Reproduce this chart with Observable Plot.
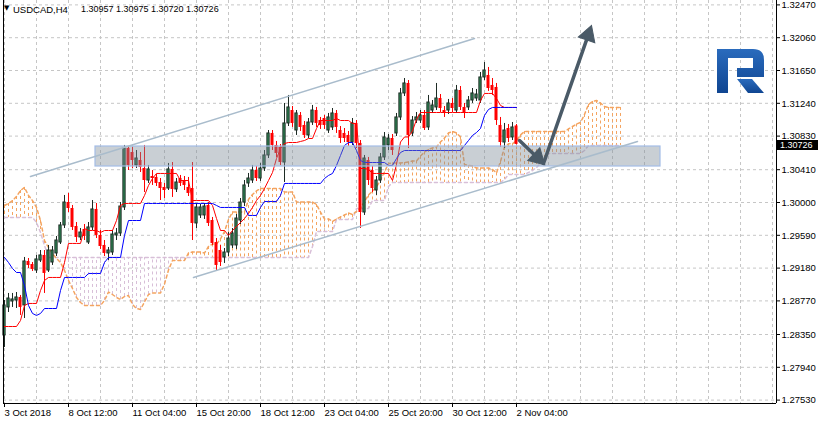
<!DOCTYPE html>
<html><head><meta charset="utf-8">
<script src="https://cdn.jsdelivr.net/npm/d3@7"></script>
<script src="https://cdn.jsdelivr.net/npm/@observablehq/plot@0.6"></script>
<style>
html,body{margin:0;padding:0;background:#fff;}
#chart{position:relative;width:819px;height:424px;overflow:hidden;font-family:"Liberation Sans",Arial,sans-serif;}
#chart svg{display:block;}
.ov{position:absolute;white-space:pre;color:#000;line-height:1;}
</style></head>
<body><div id="chart"></div>
<script>
// ---- data (USDCAD H4) ----
const symbolTitle = "USDCAD,H4";
const lastQuote = ["1.30957","1.30975","1.30720","1.30726"];
const lastPrice = 1.30726;
const open=[1.28338,1.28688,1.28763,1.28775,1.28813,1.28713,1.29263,1.29225,1.29150,1.29275,
1.29338,1.29150,1.29250,1.29363,1.29500,1.29713,1.30000,1.29925,1.29700,1.29563,
1.29663,1.29500,1.29688,1.29913,1.29588,1.29463,1.29363,1.29375,1.29588,1.29613,
1.29938,1.30675,1.30625,1.30463,1.30525,1.30425,1.30275,1.30325,1.30313,1.30250,
1.30188,1.30175,1.30413,1.30163,1.30300,1.30275,1.30188,1.30175,1.29738,1.29838,
1.29838,1.29963,1.29775,1.29500,1.29400,1.29313,1.29375,1.29463,1.29463,1.29775,
1.30000,1.30238,1.30275,1.30400,1.30300,1.30425,1.30588,1.30863,1.30713,1.30688,
1.30500,1.30988,1.31150,1.30900,1.31088,1.30963,1.30838,1.31000,1.31150,1.31025,
1.31050,1.30900,1.30938,1.31113,1.30900,1.30863,1.30838,1.30750,1.30988,1.30738,
1.29875,1.30525,1.30400,1.30150,1.30275,1.30563,1.30713,1.30800,1.30863,1.31063,
1.31363,1.31488,1.30863,1.31025,1.31025,1.31088,1.30938,1.31150,1.31188,1.31300,
1.31150,1.31150,1.31238,1.31150,1.31400,1.31188,1.31188,1.31275,1.31300,1.31275,
1.31563,1.31588,1.31463,1.31438,1.30963,1.30750,1.30925,1.30813,1.30957];
const high=[1.28775,1.28863,1.28863,1.28875,1.28838,1.29313,1.29300,1.29250,1.29338,1.29400,
1.29400,1.29463,1.29450,1.29575,1.29750,1.30088,1.30113,1.29963,1.29750,1.29675,
1.29725,1.29750,1.30025,1.29988,1.29650,1.29525,1.29438,1.29650,1.29675,1.30000,
1.30713,1.30700,1.30688,1.30650,1.30625,1.30713,1.30463,1.30400,1.30350,1.30300,
1.30238,1.30488,1.30500,1.30300,1.30338,1.30325,1.30313,1.30500,1.29988,1.29975,
1.29988,1.30000,1.29813,1.29550,1.29463,1.29425,1.29625,1.29675,1.29850,1.30050,
1.30275,1.30363,1.30463,1.30450,1.30488,1.30650,1.30900,1.30900,1.30763,1.30725,
1.31238,1.31338,1.31200,1.31150,1.31125,1.31013,1.31050,1.31213,1.31188,1.31063,
1.31088,1.31113,1.31175,1.31150,1.30950,1.30925,1.30888,1.31050,1.31025,1.30775,
1.30588,1.30563,1.30450,1.30325,1.30613,1.30875,1.30850,1.30850,1.31113,1.31425,
1.31550,1.31525,1.31075,1.31125,1.31150,1.31150,1.31338,1.31275,1.31488,1.31350,
1.31200,1.31288,1.31300,1.31463,1.31450,1.31238,1.31325,1.31425,1.31413,1.31625,
1.31750,1.31688,1.31550,1.31488,1.31063,1.30988,1.30975,1.31000,1.30975];
const low=[1.28188,1.28625,1.28688,1.28675,1.28588,1.28550,1.29175,1.29138,1.29113,1.29250,
1.28863,1.29125,1.29213,1.29325,1.29475,1.29675,1.29875,1.29650,1.29500,1.29525,
1.29525,1.29475,1.29650,1.29550,1.29413,1.29325,1.29275,1.29338,1.29525,1.29575,
1.29900,1.30400,1.30425,1.30425,1.30375,1.30125,1.30238,1.30213,1.30200,1.30025,
1.30050,1.30150,1.30063,1.30125,1.30200,1.30150,1.30075,1.29525,1.29675,1.29800,
1.29788,1.29700,1.29463,1.29150,1.29200,1.29238,1.29325,1.29425,1.29413,1.29725,
1.29950,1.30188,1.30238,1.30263,1.30263,1.30388,1.30550,1.30650,1.30563,1.30463,
1.30250,1.30950,1.30938,1.30838,1.30888,1.30800,1.30800,1.30963,1.30938,1.30913,
1.30913,1.30863,1.30900,1.30863,1.30738,1.30750,1.30700,1.30713,1.30675,1.29675,
1.29838,1.30213,1.30125,1.30088,1.30238,1.30525,1.30650,1.30588,1.30825,1.31025,
1.31325,1.30675,1.30825,1.30988,1.30988,1.30900,1.30900,1.31113,1.31150,1.31125,
1.31063,1.31100,1.31125,1.31113,1.31150,1.31050,1.31150,1.31238,1.31263,1.31238,
1.31525,1.31388,1.31338,1.30963,1.30688,1.30675,1.30750,1.30775,1.30720];
const close=[1.28713,1.28800,1.28788,1.28813,1.28688,1.29263,1.29213,1.29163,1.29288,1.29338,
1.29113,1.29400,1.29400,1.29525,1.29713,1.30000,1.29925,1.29688,1.29563,1.29625,
1.29575,1.29688,1.29913,1.29588,1.29450,1.29363,1.29400,1.29600,1.29613,1.29950,
1.30675,1.30463,1.30525,1.30550,1.30438,1.30275,1.30413,1.30300,1.30238,1.30175,
1.30150,1.30413,1.30163,1.30250,1.30238,1.30213,1.30113,1.29738,1.29938,1.29938,
1.29950,1.29738,1.29488,1.29213,1.29250,1.29375,1.29550,1.29613,1.29800,1.30000,
1.30213,1.30300,1.30400,1.30300,1.30425,1.30588,1.30863,1.30713,1.30613,1.30500,
1.30988,1.31188,1.30988,1.31113,1.30938,1.30838,1.31000,1.31150,1.30988,1.30963,
1.30963,1.31063,1.31113,1.30938,1.30800,1.30800,1.30750,1.30988,1.30738,1.29875,
1.30550,1.30275,1.30175,1.30275,1.30563,1.30813,1.30800,1.30650,1.31063,1.31363,
1.31488,1.30838,1.31025,1.31063,1.31088,1.30925,1.31250,1.31213,1.31300,1.31175,
1.31113,1.31238,1.31175,1.31400,1.31188,1.31113,1.31275,1.31363,1.31350,1.31563,
1.31650,1.31425,1.31400,1.31025,1.30750,1.30900,1.30800,1.30938,1.30726];
const tenkan=[1.28450,1.28450,1.28450,1.28450,1.28525,1.28713,1.28738,1.28738,1.28738,1.28900,
1.29025,1.29063,1.29063,1.29063,1.29063,1.29250,1.29488,1.29488,1.29488,1.29488,
1.29675,1.29650,1.29650,1.29650,1.29625,1.29650,1.29650,1.29650,1.29775,1.29963,
1.29988,1.29988,1.29988,1.29988,1.29988,1.30088,1.30213,1.30300,1.30363,1.30363,
1.30363,1.30363,1.30363,1.30363,1.30275,1.30275,1.30275,1.30025,1.30025,1.30025,
1.30025,1.30025,1.29963,1.29800,1.29650,1.29650,1.29588,1.29650,1.29700,1.29750,
1.29800,1.29863,1.29938,1.30025,1.30088,1.30175,1.30275,1.30375,1.30550,1.30675,
1.30738,1.30750,1.30750,1.30750,1.30763,1.30775,1.30800,1.30800,1.30925,1.31025,
1.31025,1.31025,1.31025,1.31050,1.31025,1.31025,1.31025,1.30988,1.30988,1.30425,
1.30425,1.30413,1.30363,1.30363,1.30363,1.30363,1.30363,1.30275,1.30475,1.30756,
1.30819,1.30819,1.30894,1.31038,1.31125,1.31125,1.31125,1.31125,1.31125,1.31125,
1.31125,1.31125,1.31125,1.31125,1.31125,1.31125,1.31125,1.31125,1.31125,1.31275,
1.31363,1.31363,1.31363,1.31300,1.31213,1.31188,1.31188,1.31188,1.31188];
const kijun=[1.29313,1.29250,1.29175,1.29125,1.29125,1.28963,1.28713,1.28613,1.28588,1.28613,
1.28675,1.28675,1.28675,1.28675,1.28900,1.29063,1.29063,1.29063,1.29063,1.29063,
1.29063,1.29113,1.29113,1.29113,1.29113,1.29250,1.29313,1.29313,1.29313,1.29313,
1.29588,1.29775,1.29775,1.29775,1.29775,1.29988,1.29988,1.29988,1.29988,1.29988,
1.29988,1.29988,1.29988,1.29988,1.29988,1.29988,1.29988,1.29988,1.29988,1.29988,
1.29988,1.29988,1.29988,1.29963,1.29938,1.29938,1.29938,1.29938,1.29938,1.29938,
1.29938,1.29838,1.29838,1.29838,1.29938,1.30013,1.30013,1.30013,1.30013,1.30088,
1.30238,1.30238,1.30238,1.30238,1.30238,1.30238,1.30238,1.30238,1.30238,1.30238,
1.30300,1.30338,1.30363,1.30463,1.30588,1.30713,1.30750,1.30750,1.30650,1.30525,
1.30500,1.30500,1.30500,1.30500,1.30500,1.30500,1.30463,1.30463,1.30550,1.30625,
1.30650,1.30650,1.30650,1.30650,1.30650,1.30650,1.30650,1.30650,1.30650,1.30650,
1.30650,1.30650,1.30650,1.30650,1.30650,1.30713,1.30775,1.30838,1.30875,1.30925,
1.31088,1.31163,1.31188,1.31188,1.31188,1.31188,1.31188,1.31188,1.31188];
const senkouA=[1.29963,1.29988,1.30025,1.30075,1.30150,1.30188,1.30088,1.30025,1.29938,1.29775,
1.29525,1.29438,1.29363,1.29300,1.29250,1.29150,1.29025,1.28925,1.28813,1.28750,
1.28713,1.28713,1.28713,1.28713,1.28713,1.28775,1.28881,1.28850,1.28813,1.28788,
1.28825,1.28838,1.28725,1.28675,1.28663,1.28756,1.28850,1.28869,1.28869,1.28869,
1.28981,1.29156,1.29275,1.29275,1.29275,1.29275,1.29369,1.29381,1.29381,1.29381,
1.29369,1.29450,1.29481,1.29481,1.29544,1.29638,1.29788,1.29881,1.29881,1.29881,
1.29881,1.30038,1.30100,1.30144,1.30175,1.30175,1.30175,1.30175,1.30175,1.30175,
1.30131,1.30131,1.30131,1.30006,1.30006,1.30006,1.30006,1.30006,1.29975,1.29881,
1.29794,1.29794,1.29763,1.29794,1.29819,1.29844,1.29869,1.29850,1.29888,1.29931,
1.30013,1.30094,1.30144,1.30194,1.30281,1.30381,1.30488,1.30494,1.30494,1.30494,
1.30500,1.30506,1.30519,1.30519,1.30581,1.30631,1.30663,1.30681,1.30694,1.30756,
1.30806,1.30869,1.30888,1.30869,1.30819,1.30475,1.30463,1.30456,1.30431,1.30431,
1.30431,1.30431,1.30413,1.30369,1.30513,1.30691,1.30734,1.30734,1.30772,1.30844,
1.30888,1.30888,1.30888,1.30888,1.30888,1.30888,1.30888,1.30888,1.30888,1.30888,
1.30888,1.30919,1.30950,1.30981,1.31000,1.31100,1.31225,1.31263,1.31275,1.31244,
1.31200,1.31188,1.31188,1.31188,1.31188];
const senkouB=[1.29813,1.29813,1.29813,1.29813,1.29813,1.29813,1.29813,1.29813,1.29750,1.29625,
1.29463,1.29313,1.29313,1.29313,1.29313,1.29313,1.29313,1.29313,1.29313,1.29313,
1.29313,1.29313,1.29313,1.29313,1.29313,1.29313,1.29313,1.29313,1.29313,1.29313,
1.29313,1.29313,1.29313,1.29313,1.29313,1.29313,1.29313,1.29313,1.29313,1.29313,
1.29313,1.29313,1.29313,1.29313,1.29313,1.29313,1.29313,1.29313,1.29313,1.29313,
1.29313,1.29313,1.29313,1.29313,1.29313,1.29313,1.29313,1.29313,1.29313,1.29313,
1.29313,1.29313,1.29313,1.29313,1.29313,1.29313,1.29313,1.29313,1.29313,1.29313,
1.29313,1.29313,1.29313,1.29313,1.29313,1.29313,1.29313,1.29450,1.29638,1.29638,
1.29638,1.29638,1.29638,1.29788,1.29788,1.29788,1.29788,1.29788,1.29925,1.29925,
1.29925,1.29925,1.30025,1.30025,1.30025,1.30025,1.30200,1.30250,1.30250,1.30250,
1.30250,1.30250,1.30250,1.30250,1.30250,1.30250,1.30250,1.30250,1.30250,1.30250,
1.30250,1.30250,1.30250,1.30250,1.30250,1.30250,1.30250,1.30250,1.30250,1.30250,
1.30250,1.30250,1.30250,1.30250,1.30250,1.30288,1.30350,1.30350,1.30350,1.30350,
1.30350,1.30375,1.30400,1.30438,1.30488,1.30488,1.30613,1.30613,1.30613,1.30613,
1.30613,1.30613,1.30613,1.30613,1.30613,1.30650,1.30713,1.30713,1.30713,1.30713,
1.30713,1.30713,1.30713,1.30713,1.30713];
// axis ticks
const timeTickBars = [0,16,32,48,64,80,96,112,128];
const timeTickLabels = ["3 Oct 2018","8 Oct 12:00","11 Oct 04:00","15 Oct 20:00","18 Oct 12:00","23 Oct 04:00","25 Oct 20:00","30 Oct 12:00","2 Nov 04:00"];
const gridBars = [0,8,16,24,32,40,48,56,64,72,80,88,96,104,112,120,128,136,144,152,160,168,176,184,192];
const priceTicks = [1.3247,1.3206,1.3165,1.3124,1.3083,1.3041,1.3000,1.2959,1.2918,1.2877,1.2835,1.2794,1.2753];
// drawn annotations (bar index, price)
const zoneBars = [22.75, 164];
const zonePrices = [1.30450, 1.30700];
const upperChannelBars = [6.5, 117.5], upperChannelPrices = [1.30325, 1.32050];
const lowerChannelBars = [47.25, 158.25], lowerChannelPrices = [1.29063, 1.30763];
const arrowFromBars = [128.75, 134.75], arrowFromPrices = [1.30775, 1.30488];
const arrowToBars = [134.5, 146.5], arrowToPrices = [1.30500, 1.32175];

// ---- layout ----
const W=819, H=424, ML=3, MR=43, MT=0, MB=21;
const X_DOMAIN=[-0.25, 193], Y_DOMAIN=[1.274875, 1.32525];
const kx=(W-ML-MR)/(X_DOMAIN[1]-X_DOMAIN[0]);
const ky=(H-MT-MB)/(Y_DOMAIN[1]-Y_DOMAIN[0]);

const n=Math.min(open.length,high.length,low.length,close.length);
const candles=d3.range(n).map(i=>({i,o:open[i],h:high[i],l:low[i],c:close[i]}));
const bulls=candles.filter(d=>d.c>=d.o), bears=candles.filter(d=>d.c<d.o);
const tk=tenkan.map((v,i)=>({i,v})), kj=kijun.map((v,i)=>({i,v}));
const cloud=d3.range(Math.min(senkouA.length,senkouB.length)).map(j=>({j,a:senkouA[j],b:senkouB[j]}));
const cloudUp=cloud.filter(d=>d.a>=d.b), cloudDn=cloud.filter(d=>d.a<d.b);
const zone=[{x1:zoneBars[0],x2:zoneBars[1],y1:zonePrices[0],y2:zonePrices[1]}];
const upper=upperChannelBars.map((b,k)=>({b,p:upperChannelPrices[k]}));
const lower=lowerChannelBars.map((b,k)=>({b,p:lowerChannelPrices[k]}));
const arrows=arrowFromBars.map((b,k)=>{
  const fb=b, fp=arrowFromPrices[k], tb=arrowToBars[k], tp=arrowToPrices[k];
  const vx=(tb-fb)*kx, vy=-(tp-fp)*ky; const L=Math.hypot(vx,vy); const ux=vx/L, uy=vy/L;
  return {fb,fp,
    sb: tb-ux*8/kx, sp: tp+uy*8/ky,
    hb: tb-ux*7/kx, hp: tp+uy*7/ky,
    rot: Math.atan2(ux,-uy)*180/Math.PI};
});
const axisBottom=Y_DOMAIN[0], axisRight=X_DOMAIN[1];

const gridStyle={stroke:"#c6c6c6",strokeDasharray:"3,3",strokeWidth:1};
const chart=Plot.plot({
  width:W,height:H,marginLeft:ML,marginRight:MR,marginTop:MT,marginBottom:MB,
  x:{domain:X_DOMAIN,axis:null},
  y:{domain:Y_DOMAIN,axis:null},
  style:{fontFamily:'"Liberation Sans", Arial, sans-serif',fontSize:"9.5px",background:"#fff",color:"#000",overflow:"visible"},
  marks:[
    Plot.ruleX(gridBars,{x:d=>d,...gridStyle}),
    Plot.ruleY(priceTicks,{y:d=>d,...gridStyle}),
    // Ichimoku cloud hatching
    Plot.ruleX(cloudDn,{x:"j",y1:"a",y2:"b",stroke:"#d8bfd8",strokeDasharray:"3,3"}),
    Plot.ruleX(cloudUp,{x:"j",y1:"a",y2:"b",stroke:"#f4a460",strokeDasharray:"3,3"}),
    Plot.line(cloud,{x:"j",y:"b",stroke:"#d8bfd8",strokeDasharray:"3,3"}),
    Plot.line(cloud,{x:"j",y:"a",stroke:"#f4a460",strokeDasharray:"3,3"}),
    // candles
    Plot.ruleX(bulls,{x:"i",y1:"l",y2:"h",stroke:"#1d2b24"}),
    Plot.ruleX(bears,{x:"i",y1:"l",y2:"h",stroke:"#ff0000"}),
    Plot.rect(bulls,{x1:d=>d.i-0.28,x2:d=>d.i+0.28,y1:"o",y2:"c",fill:"#2e8b57",stroke:"#1d2b24",strokeWidth:1}),
    Plot.rect(bears,{x1:d=>d.i-0.375,x2:d=>d.i+0.375,y1:"o",y2:"c",fill:"#ff0000"}),
    // Tenkan / Kijun
    Plot.line(tk,{x:"i",y:"v",stroke:"#ff0000",strokeWidth:1}),
    Plot.line(kj,{x:"i",y:"v",stroke:"#0000ff",strokeWidth:1}),
    // zone
    Plot.rect(zone,{x1:"x1",x2:"x2",y1:"y1",y2:"y2",fill:"#7f8c99",fillOpacity:0.42,stroke:"#a4bde6",strokeWidth:1.2}),
    // channel
    Plot.line(upper,{x:"b",y:"p",stroke:"#a9bccc",strokeWidth:1.5}),
    Plot.line(lower,{x:"b",y:"p",stroke:"#a9bccc",strokeWidth:1.5}),
    // arrows
    Plot.link(arrows,{x1:"fb",y1:"fp",x2:"sb",y2:"sp",stroke:"#4a5a67",strokeWidth:3.5,strokeLinecap:"round"}),
    Plot.dot(arrows,{x:"hb",y:"hp",symbol:"triangle",r:6.5,rotate:"rot",fill:"#4a5a67",stroke:"#4a5a67",strokeWidth:1}),
    // frame
    Plot.ruleX([X_DOMAIN[0]],{stroke:"#000"}),
    Plot.ruleX([axisRight],{stroke:"#000"}),
    Plot.ruleY([axisBottom],{stroke:"#000"}),
    // time axis
    Plot.ruleX(timeTickBars,{x:d=>d,y1:axisBottom,y2:axisBottom-4/ky,stroke:"#000"}),
    Plot.text(timeTickBars,{x:d=>d,frameAnchor:"bottom",dy:9,text:(d,k)=>timeTickLabels[k],textAnchor:"start",lineAnchor:"middle",fill:"#000"}),
    // price axis
    Plot.ruleY(priceTicks,{y:d=>d,x1:axisRight,x2:axisRight+4/kx,stroke:"#000"}),
    Plot.text(priceTicks,{y:d=>d,frameAnchor:"right",dx:5,dy:0.3,text:d=>d.toFixed(5),textAnchor:"start",lineAnchor:"middle",fill:"#000"})
  ]
});
const root=document.getElementById("chart");
root.appendChild(chart);

// current price tag
const yPx=chart.scale("y").apply(lastPrice);
const tag=document.createElement("div");
tag.className="ov";
tag.style.cssText=`left:777px;top:${(yPx-3.5).toFixed(1)}px;width:41px;height:10px;background:#000;color:#fff;font-size:9px;line-height:10px;padding-left:3px;box-sizing:border-box;`;
tag.textContent=lastPrice.toFixed(5);
root.appendChild(tag);

// title
const tri=document.createElement("div");
tri.className="ov"; tri.style.cssText="left:4px;top:5px;font-size:7px;font-family:'DejaVu Sans',sans-serif;";
tri.textContent="\u25BC"; root.appendChild(tri);
const t1=document.createElement("div");
t1.className="ov"; t1.style.cssText="left:13px;top:5px;font-size:9.5px;";
t1.textContent=symbolTitle; root.appendChild(t1);
const t2=document.createElement("div");
t2.className="ov"; t2.style.cssText="left:81px;top:5px;font-size:9px;";
t2.textContent=lastQuote.join(" "); root.appendChild(t2);

// broker logo
const ns="http://www.w3.org/2000/svg";
const logo=document.createElementNS(ns,"svg");
logo.setAttribute("width","60");logo.setAttribute("height","50");
logo.style.cssText="position:absolute;left:710px;top:45px;";
logo.innerHTML=`<defs><linearGradient id="lg" x1="0" y1="0" x2="0" y2="1"><stop offset="0" stop-color="#2a6bbd"/><stop offset="1" stop-color="#0f4591"/></linearGradient></defs>
<path fill="url(#lg)" d="M7,4 H43 Q54,4 54,15 V32 H27 V23 H43 V13 H18 V48 H7 Z"/>
<path fill="url(#lg)" d="M27,34 H42 L54,48 H38 Z"/>`;
root.appendChild(logo);
</script></body></html>
